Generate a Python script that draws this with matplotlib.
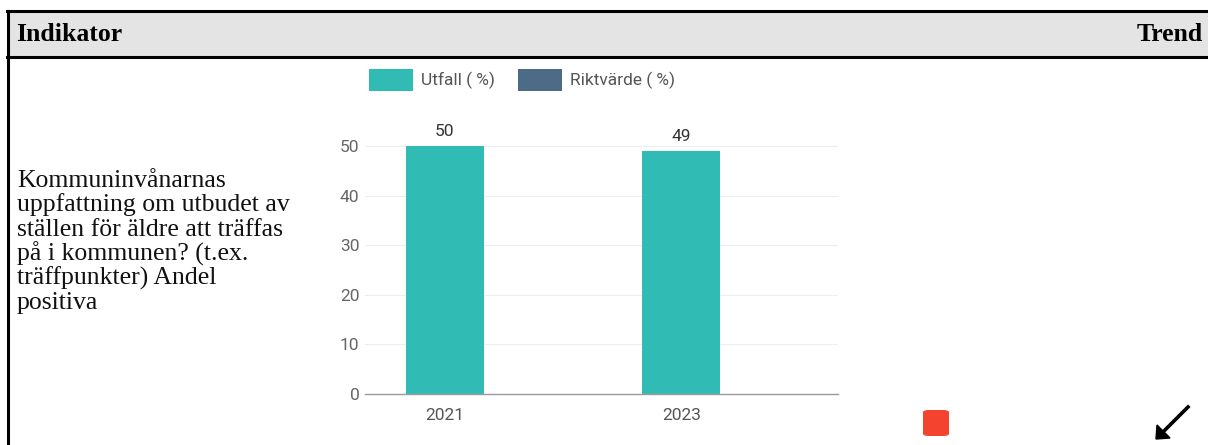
import numpy as np
import matplotlib.pyplot as plt
from matplotlib.patches import FancyBboxPatch, Rectangle

years = ["2021", "2023"]
utfall = [50, 49]
legend_labels = ["Utfall ( %)", "Riktvärde ( %)"]
indicator_lines = ["Kommuninvånarnas", "uppfattning om utbudet av", "ställen för äldre att träffas",
                   "på i kommunen? (t.ex.", "träffpunkter) Andel", "positiva"]
yticks = [0, 10, 20, 30, 40, 50]

W, H = 1208, 445
teal = "#30bbb4"
slate = "#4d6a87"
serif = ["Liberation Serif", "DejaVu Serif"]

fig = plt.figure(figsize=(W / 100, H / 100), dpi=100)


def fx(x):
    return x / W


def fy(y):
    return 1 - y / H


# table header
fig.patches.append(Rectangle((fx(8), fy(57)), fx(W - 8) + 0.01, fy(11) - fy(57),
                             transform=fig.transFigure, facecolor="#e4e4e4", edgecolor="none", zorder=0))
fig.add_artist(plt.Line2D([fx(7), 1.01], [fy(11), fy(11)], color="black", lw=2.2))
fig.add_artist(plt.Line2D([fx(7), 1.01], [fy(57), fy(57)], color="black", lw=2.2))
fig.add_artist(plt.Line2D([fx(8), fx(8)], [fy(11), -0.01], color="black", lw=2.2))
fig.text(fx(16), fy(41), "Indikator", family=serif, fontweight="bold", fontsize=18.5,
         va="baseline", ha="left")
fig.text(fx(1203), fy(41), "Trend", family=serif, fontweight="bold", fontsize=18.5,
         va="baseline", ha="right")

# indicator text, one line per row
for i, line in enumerate(indicator_lines):
    fig.text(fx(17), fy(187 + 24.4 * i), line, family=serif, fontsize=18.5, va="baseline",
             ha="left", color="#111111")

# chart
ymax = 55
y0, y50 = 394, 146
top = y0 - (y0 - y50) / 50 * ymax
ax = fig.add_axes([fx(365), fy(y0), fx(838) - fx(365), fy(top) - fy(y0)])
x = np.arange(len(years))
ax.bar(x, utfall, width=0.33, color=teal, zorder=2)
for xi, v in zip(x, utfall):
    ax.text(xi, v + 1.5, str(v), ha="center", va="bottom", fontsize=12.5, color="#333333",
            family="Roboto")
ax.set_xlim(-0.338, 1.662)
ax.set_ylim(0, ymax)
ax.set_yticks(yticks)
ax.set_xticks(x)
ax.set_xticklabels(years)
for y in yticks[1:]:
    ax.axhline(y, color="#eeeeee", lw=0.8, zorder=1)
for s in ["top", "right", "left"]:
    ax.spines[s].set_visible(False)
ax.spines["bottom"].set_color("#9a9a9a")
ax.spines["bottom"].set_linewidth(1.0)
ax.tick_params(axis="y", length=0, pad=4, labelsize=12.5, labelcolor="#666666")
ax.tick_params(axis="x", length=0, pad=10, labelsize=12.5, labelcolor="#555555")
for lab in ax.get_xticklabels() + ax.get_yticklabels():
    lab.set_family("Roboto")

# legend
fig.patches.append(Rectangle((fx(369), fy(91)), fx(413) - fx(369), fy(69) - fy(91),
                             transform=fig.transFigure, facecolor=teal, edgecolor="none"))
fig.patches.append(Rectangle((fx(518), fy(91)), fx(562) - fx(518), fy(69) - fy(91),
                             transform=fig.transFigure, facecolor=slate, edgecolor="none"))
fig.text(fx(421), fy(80), legend_labels[0], family="Roboto", fontsize=12.5, color="#555555",
         va="center")
fig.text(fx(570), fy(80), legend_labels[1], family="Roboto", fontsize=12.5, color="#555555",
         va="center")

# trend markers
fig.patches.append(FancyBboxPatch((fx(923), fy(436)), fx(949) - fx(923), fy(410) - fy(436),
                                  boxstyle="round,pad=0,rounding_size=0.005",
                                  transform=fig.transFigure, facecolor="#f4432f", edgecolor="none"))
fig.add_artist(plt.Line2D([fx(1188), fx(1163)], [fy(407), fy(432)], color="black", lw=2.6))
fig.patches.append(plt.Polygon([[fx(1156), fy(439)], [fx(1157), fy(425)], [fx(1170), fy(438)]],
                               closed=True, transform=fig.transFigure, color="black"))

fig.savefig("out.png", dpi=100)
